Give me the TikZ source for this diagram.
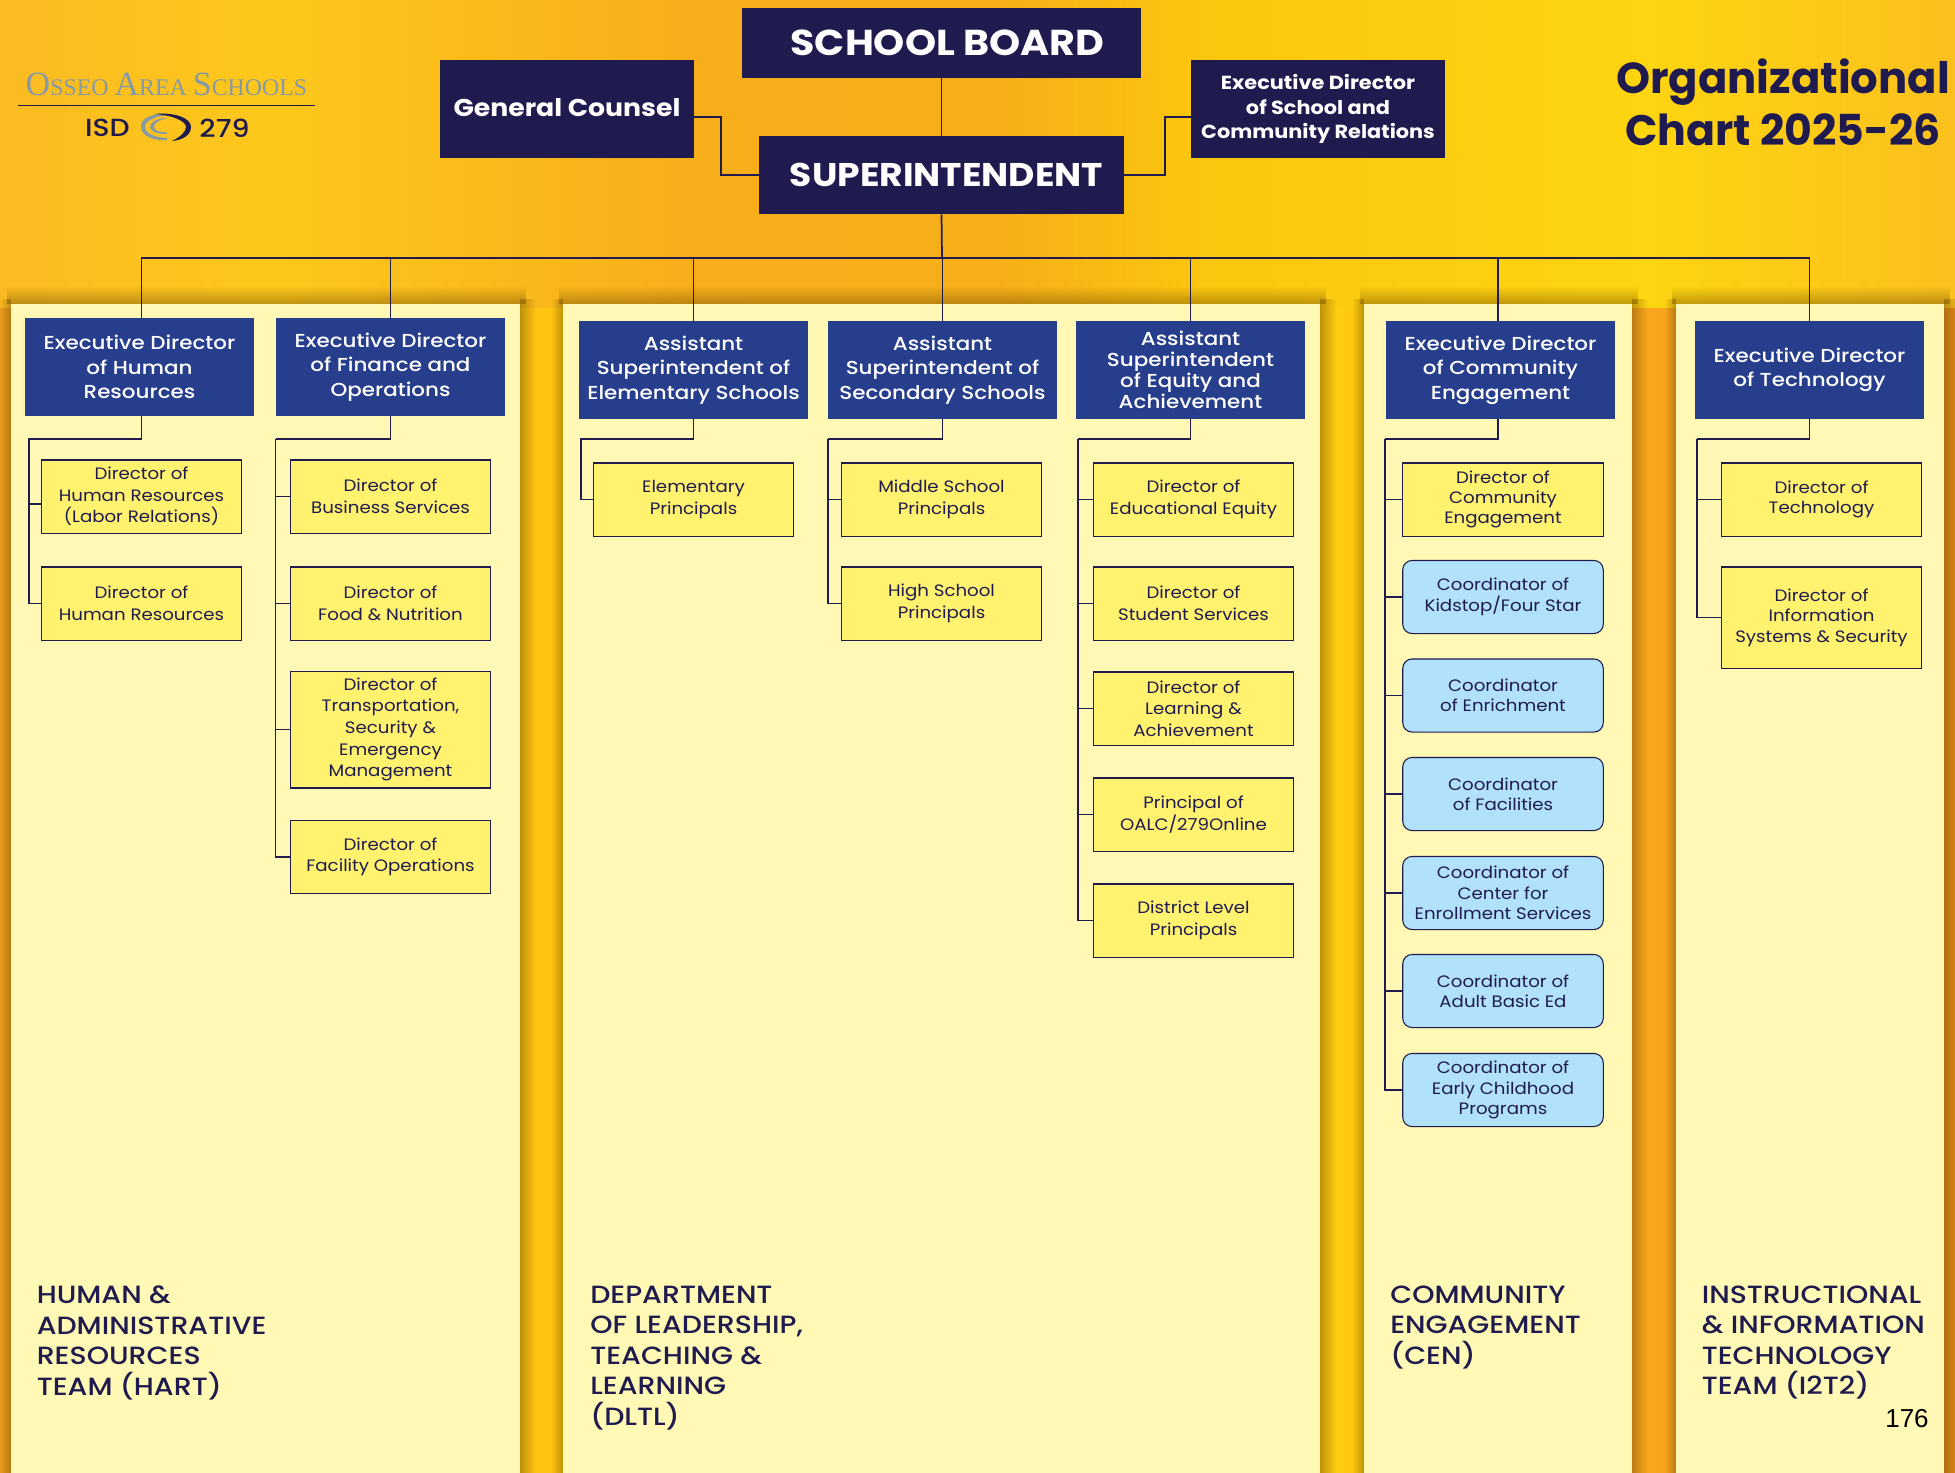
\documentclass[tikz,border=0pt]{standalone}
\usepackage{fontspec}
\usetikzlibrary{fadings}
\setmainfont[FakeStretch=1.1]{Poppins}
\newfontfamily\medfont[FakeStretch=1.14]{Poppins Medium}
\newfontfamily\heavyfont[FakeStretch=1.1]{Poppins Bold}
\newfontfamily\titlefont{Poppins Bold}
\newfontfamily\logofont{Liberation Serif}
\newfontfamily\numfont{Liberation Sans}
\definecolor{navy}{HTML}{1F1B4F}
\definecolor{headblue}{HTML}{263E8C}
\definecolor{panelc}{HTML}{FFF9B5}
\definecolor{yelc}{HTML}{FFF26E}
\definecolor{cyanc}{HTML}{B1E1FB}
\definecolor{logogray}{HTML}{8799A6}
\definecolor{shadowc}{HTML}{5A3A00}
\definecolor{bgA}{HTML}{FBBB22}
\definecolor{bgB}{HTML}{FDC81B}
\definecolor{bgC}{HTML}{F7AE1B}
\definecolor{bgD}{HTML}{F6AF18}
\definecolor{bgE}{HTML}{FBC60F}
\definecolor{bgF}{HTML}{FED511}
\definecolor{bgG}{HTML}{FBC01D}
\definecolor{lowA}{HTML}{EE9D1C}
\definecolor{lowB}{HTML}{FFC510}
\definecolor{lowC}{HTML}{FFCB10}
\definecolor{lowD}{HTML}{FAA61C}
\definecolor{lowE}{HTML}{E88F1C}
\pgfdeclarehorizontalshading{topgrad}{100bp}{color(0bp)=(bgA); color(25bp)=(bgA);
  color(31.9bp)=(bgB); color(42.9bp)=(bgC); color(50.6bp)=(bgD); color(55.7bp)=(bgE);
  color(67.2bp)=(bgF); color(75bp)=(bgG); color(100bp)=(bgG)}
\pgfdeclarehorizontalshading{lowgrad}{100bp}{color(0bp)=(lowA); color(25bp)=(lowA);
  color(38.6bp)=(lowB); color(59.3bp)=(lowC); color(67.2bp)=(lowD); color(75bp)=(lowE); color(100bp)=(lowE)}
\tikzset{
  topbox/.style={fill=navy,text=white,align=center,inner sep=0pt,font=\heavyfont\fontsize{14.2}{18.4}\selectfont},
  headbox/.style={fill=headblue,text=white,align=center,inner sep=0pt,minimum width=171.5pt,minimum height=73.5pt,font=\medfont\fontsize{14.1}{18.4}\selectfont},
  yelbox/.style={draw=navy,line width=0.8pt,fill=yelc,text=navy,align=center,inner sep=0pt,minimum width=150.4pt,minimum height=54.8pt,font=\fontsize{12.4}{16.2}\selectfont},
  coordbox/.style={yelbox,rounded corners=7pt,fill=cyanc,font=\fontsize{12.4}{15.3}\selectfont},
  conn/.style={draw=navy,line width=1.3pt},
  teamlabel/.style={text=navy,align=left,anchor=north west,inner sep=0pt,font=\medfont\fontsize{18.7}{22.9}\selectfont}
}
\begin{document}
\begin{tikzpicture}[x=0.75pt,y=0.75pt,yscale=-1,xscale=1]
\useasboundingbox (0,0) rectangle (1955,1473);

%Background
\shade[shading=lowgrad] (0,300) rectangle (1955,1473);
\shade[shading=topgrad] (0,0) rectangle (1955,307);

%Panels with their shadows
\foreach \l/\r in {11/520,563/1320,1364/1632,1676/1944}{
  \fill[shadowc,path fading=north,fill opacity=.38] (\l-4,286) rectangle (\r+6,304);
  \fill[shadowc,path fading=east,fill opacity=.38] (\r,298) rectangle (\r+16,1473);
  \fill[shadowc,path fading=west,fill opacity=.38] (\l-12,298) rectangle (\l,1473);
  \fill[panelc] (\l,304) rectangle (\r,1473);
}

%Logo
\draw (166.5,84) node [text=logogray,inner sep=0pt,font=\logofont] (logotext) {\fontsize{25.5}{25}\selectfont O\fontsize{17.9}{25}\selectfont SSEO \fontsize{25.5}{25}\selectfont A\fontsize{17.9}{25}\selectfont REA \fontsize{25.5}{25}\selectfont S\fontsize{17.9}{25}\selectfont CHOOLS};
\draw [navy,line width=0.8pt] (18,105.5) -- (315,105.5);
\draw (107.5,128) node [text=navy,inner sep=0pt,font=\medfont\fontsize{18.6}{20}\selectfont] (logoisd) {ISD};
\draw (224.5,128) node [text=navy,inner sep=0pt,font=\medfont\fontsize{18.6}{20}\selectfont] (logonum) {279};
\fill [logogray] (167,114) .. controls (150,113) and (140,120) .. (141,127) .. controls (141,135) and (152,141) .. (167,140) -- (167,138) .. controls (155,138) and (145,133) .. (145,127) .. controls (145,121) and (155,116) .. (167,115.5) -- cycle;
\fill [logogray] (168,118) .. controls (157,118) and (150,122) .. (150,127) .. controls (150,131) and (156,134) .. (167,134) -- (167,132.5) .. controls (158,132) and (154,130) .. (154,127) .. controls (154,123) and (159,120) .. (168,118) -- cycle;
\fill [navy] (154,114) .. controls (175,112) and (191,118) .. (191,127) .. controls (191,135) and (183,140) .. (172,141) .. controls (180,137) and (186,132) .. (186,127) .. controls (186,121) and (172,115) .. (154,114) -- cycle;

%Title
\draw (1783,94) node [anchor=base,text=navy,inner sep=0pt,font=\titlefont\fontsize{32.5}{39}\selectfont] (titleA) {Organizational};
\draw (1783,146) node [anchor=base,text=navy,inner sep=0pt,font=\titlefont\fontsize{32}{39}\selectfont] (titleB) {Chart 2025-26};

%Top boxes
\draw (941.5,43) node [topbox,minimum width=299pt,minimum height=52.5pt,font=\heavyfont\fontsize{27}{30}\selectfont] (board) {\hspace*{9pt}SCHOOL BOARD};
\draw (941.5,175) node [topbox,minimum width=273.8pt,minimum height=58.5pt,font=\heavyfont\fontsize{24.6}{28}\selectfont] (sup) {\hspace*{7.5pt}\raisebox{1pt}{SUPERINTENDENT}};
\draw (567,109) node [topbox,minimum width=190.5pt,minimum height=73.5pt,font=\heavyfont\fontsize{18.2}{22}\selectfont] (counsel) {\raisebox{2.5pt}{General Counsel}};
\draw (1318,109) node [topbox,minimum width=190.5pt,minimum height=73.5pt] (exschool) {Executive Director\\of School and\\Community Relations};

%Department heads
\draw (139.5,367) node [headbox] (hrhead) {Executive Director\\of Human\\Resources};
\draw (390.5,367) node [headbox] (finhead) {Executive Director\\of Finance and\\Operations};
\draw (693.5,370) node [headbox] (elemhead) {Assistant\\Superintendent of\\Elementary Schools};
\draw (942.5,370) node [headbox] (sechead) {Assistant\\Superintendent of\\Secondary Schools};
\draw (1190.5,370) node [headbox,font=\medfont\fontsize{14.1}{15.6}\selectfont] (eqhead) {Assistant\\Superintendent\\of Equity and\\Achievement};
\draw (1500.5,370) node [headbox] (commhead) {Executive Director\\of Community\\Engagement};
\draw (1809.5,370) node [headbox] (techhead) {Executive Director\\of Technology};

%Directors
\draw (141.5,496.5) node [yelbox] (hrA) {Director of\\Human Resources\\(Labor Relations)};
\draw (141.5,603.5) node [yelbox] (hrB) {Director of\\Human Resources};
\draw (390.5,496.5) node [yelbox] (finA) {Director of\\Business Services};
\draw (390.5,603.5) node [yelbox] (finB) {Director of\\Food \& Nutrition};
\draw (390.5,729.5) node [yelbox,minimum height=87.7pt] (finC) {Director of\\Transportation,\\Security \&\\Emergency\\Management};
\draw (390.5,857) node [yelbox] (finD) {Director of\\Facility Operations};
\draw (693.5,499.5) node [yelbox] (elemA) {Elementary\\Principals};
\draw (941.5,499.5) node [yelbox] (secA) {Middle School\\Principals};
\draw (941.5,603.5) node [yelbox] (secB) {High School\\Principals};
\draw (1193.5,499.5) node [yelbox] (eqA) {Director of\\Educational Equity};
\draw (1193.5,603.5) node [yelbox] (eqB) {Director of\\Student Services};
\draw (1193.5,708.5) node [yelbox] (eqC) {Director of\\Learning \&\\Achievement};
\draw (1193.5,814.5) node [yelbox] (eqD) {Principal of\\OALC/279Online};
\draw (1193.5,920.5) node [yelbox] (eqE) {District Level\\Principals};
\draw (1503,499.5) node [yelbox,font=\fontsize{12.4}{15.3}\selectfont] (commA) {Director of\\Community\\Engagement};
\draw (1503,597) node [coordbox] (commB) {Coordinator of\\Kidstop/Four Star};
\draw (1503,695.5) node [coordbox] (commC) {Coordinator\\of Enrichment};
\draw (1503,794) node [coordbox] (commD) {Coordinator\\of Facilities};
\draw (1503,893) node [coordbox] (commE) {Coordinator of\\Center for\\Enrollment Services};
\draw (1503,991) node [coordbox] (commF) {Coordinator of\\Adult Basic Ed};
\draw (1503,1090) node [coordbox] (commG) {Coordinator of\\Early Childhood\\Programs};
\draw (1821.5,499.5) node [yelbox,font=\fontsize{12.4}{15.3}\selectfont] (techA) {Director of\\Technology};
\draw (1821.5,617.5) node [yelbox,minimum height=75.8pt,font=\fontsize{12.4}{15.3}\selectfont] (techB) {Director of\\Information\\Systems \& Security};

%Straight Lines
\coordinate (hbus) at (942,258);
\coordinate (jleft) at (721,175);
\coordinate (jright) at (1165,117);
\draw [conn] (board.south) -- (sup.north);
\draw [conn] ([yshift=6pt]counsel.east) -| (jleft) -- (sup.west);
\draw [conn] (sup.east) -| (jright) -- ([yshift=6pt]exschool.west);
\draw [conn] (sup.south) -- (hbus);
\draw [conn] ([xshift=1.5pt]hrhead.north) |- (hbus);
\draw [conn] (finhead.north) |- (hbus);
\draw [conn] (elemhead.north) |- (hbus);
\draw [conn] (sechead.north) |- (hbus);
\draw [conn] (eqhead.north) |- (hbus);
\draw [conn] ([xshift=-1.9pt]commhead.north) |- (hbus);
\draw [conn] (techhead.north) |- (hbus);

%Column buses
\coordinate (hrbus) at (29,439);
\coordinate (finbus) at (275.5,439);
\coordinate (elembus) at (581,439);
\coordinate (secbus) at (828,439);
\coordinate (eqbus) at (1078,439);
\coordinate (commbus) at (1385,439);
\coordinate (techbus) at (1697,439);
\draw [conn] ([xshift=1.5pt]hrhead.south) |- (hrbus) |- ([yshift=5.6pt]hrA.west);
\draw [conn] (hrbus) |- (hrB.west);
\draw [conn] (finhead.south) |- (finbus);
\foreach \c in {finA,finB,finC,finD}{\draw [conn] (finbus) |- (\c.west);}
\draw [conn] (elemhead.south) |- (elembus) |- (elemA.west);
\draw [conn] (sechead.south) |- (secbus);
\foreach \c in {secA,secB}{\draw [conn] (secbus) |- (\c.west);}
\draw [conn] (eqhead.south) |- (eqbus);
\foreach \c in {eqA,eqB,eqC,eqD,eqE}{\draw [conn] (eqbus) |- (\c.west);}
\draw [conn] ([xshift=-1.9pt]commhead.south) |- (commbus);
\foreach \c in {commA,commB,commC,commD,commE,commF,commG}{\draw [conn] (commbus) |- (\c.west);}
\draw [conn] (techhead.south) |- (techbus);
\foreach \c in {techA,techB}{\draw [conn] (techbus) |- (\c.west);}

% Text Node
\draw (36.5,1285.5) node [teamlabel] (teamhr) {HUMAN \&\\ADMINISTRATIVE\\RESOURCES\\TEAM (HART)};
% Text Node
\draw (590,1285.5) node [teamlabel] (teamdltl) {DEPARTMENT\\OF LEADERSHIP,\\TEACHING \&\\LEARNING\\(DLTL)};
% Text Node
\draw (1390,1285.5) node [teamlabel] (teamcen) {COMMUNITY\\ENGAGEMENT\\(CEN)};
% Text Node
\draw (1701.5,1285.5) node [teamlabel] (teamit) {INSTRUCTIONAL\\\& INFORMATION\\TECHNOLOGY\\TEAM (I2T2)};
% Text Node
\draw (1907,1419) node [inner sep=0pt,text=black,font=\numfont\fontsize{19.5}{22}\selectfont] (pagenum) {176};
\end{tikzpicture}
\end{document}
